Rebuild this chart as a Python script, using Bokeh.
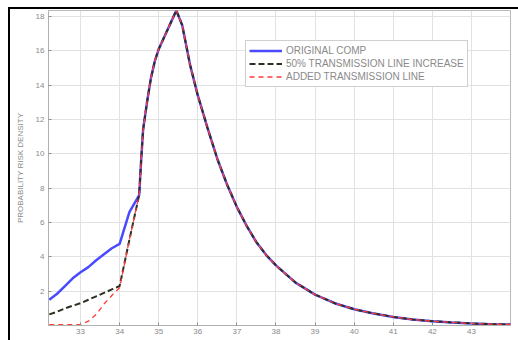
from bokeh.plotting import figure
from bokeh.layouts import column
from bokeh.models import Range1d, FixedTicker, Legend, LegendItem
from bokeh.embed import file_html
from bokeh.resources import INLINE

# Low-voltage part of each series (before the curves merge)
x_low = [32.2, 32.4, 32.6, 32.8, 33.0, 33.2, 33.4, 33.6, 33.8, 34.0, 34.25, 34.5]
orig_low = [1.5, 1.85, 2.3, 2.75, 3.1, 3.4, 3.8, 4.15, 4.5, 4.75, 6.6, 7.6]
inc_low = [0.65, 0.8, 1.0, 1.15, 1.3, 1.5, 1.7, 1.9, 2.1, 2.3, 5.0, 7.6]
added_low = [0.05, 0.05, 0.05, 0.05, 0.06, 0.25, 0.65, 1.25, 1.75, 2.2, 5.0, 7.6]

# Shared part of the density (all three series coincide)
x_main = [34.5, 34.55, 34.6, 34.7, 34.8, 34.9, 35.0, 35.1, 35.2, 35.3, 35.45,
          35.6, 35.8, 36.0, 36.25, 36.5, 36.75, 37.0, 37.25, 37.5, 37.75, 38.0,
          38.5, 39.0, 39.5, 40.0, 40.5, 41.0, 41.5, 42.0, 42.5, 43.0, 43.5, 44.0]
y_main = [7.6, 9.6, 11.4, 13.0, 14.4, 15.4, 16.1, 16.6, 17.1, 17.6, 18.35,
          17.5, 15.2, 13.4, 11.5, 9.7, 8.2, 6.9, 5.8, 4.85, 4.1, 3.5,
          2.5, 1.8, 1.3, 0.95, 0.7, 0.5, 0.35, 0.25, 0.18, 0.12, 0.08, 0.06]

x_ticks = [33, 34, 35, 36, 37, 38, 39, 40, 41, 42, 43]
y_ticks = [2, 4, 6, 8, 10, 12, 14, 16, 18]

labels = ["ORIGINAL COMP", "50% TRANSMISSION LINE INCREASE", "ADDED TRANSMISSION LINE"]

FONT = "Liberation Sans"
GREY = "#8a8a8a"

p = figure(width=508, height=331, output_backend="svg", toolbar_location=None,
           x_range=Range1d(32.18, 44.0), y_range=Range1d(0, 18.35),
           min_border_left=38, min_border_right=8, min_border_top=1, min_border_bottom=15)

p.outline_line_color = "#b8b8b8"
p.background_fill_color = "white"
p.border_fill_color = "white"

for ax in (p.xaxis[0], p.yaxis[0]):
    ax.axis_line_color = "#b0b0b0"
    ax.major_tick_in = 3
    ax.major_tick_out = 0
    ax.major_tick_line_color = "#909090"
    ax.minor_tick_line_color = None
    ax.major_label_text_font = FONT
    ax.major_label_text_font_size = "8px"
    ax.major_label_text_color = GREY

p.xaxis.ticker = FixedTicker(ticks=x_ticks)
p.yaxis.ticker = FixedTicker(ticks=y_ticks)
p.xaxis.major_label_standoff = 3
p.yaxis.major_label_standoff = 4
p.yaxis.axis_label = "PROBABILITY RISK DENSITY"
p.yaxis.axis_label_text_font = FONT
p.yaxis.axis_label_text_font_size = "8px"
p.yaxis.axis_label_text_font_style = "normal"
p.yaxis.axis_label_text_color = GREY
p.yaxis.axis_label_standoff = 8

p.xgrid.ticker = FixedTicker(ticks=x_ticks)
p.ygrid.ticker = FixedTicker(ticks=y_ticks)
p.grid.grid_line_color = "#e2e2e2"
p.grid.grid_line_width = 1

orig_x = x_low + x_main[1:]
orig_y = orig_low + y_main[1:]
inc_y = inc_low + y_main[1:]
added_y = added_low + y_main[1:]

r1 = p.line(orig_x, orig_y, line_color="#4a4aff", line_width=2.5)
r2 = p.line(orig_x, inc_y, line_color="#2e2e22", line_width=2, line_dash="6 3")
r3 = p.line(orig_x, added_y, line_color="#ff3b3b", line_width=1.3, line_dash="5 4")

legend = Legend(items=[LegendItem(label=labels[0], renderers=[r1]),
                       LegendItem(label=labels[1], renderers=[r2]),
                       LegendItem(label=labels[2], renderers=[r3])],
                location=(197, 238))
legend.label_text_font = FONT
legend.label_text_font_size = "10px"
legend.label_text_color = GREY
legend.glyph_width = 33
legend.glyph_height = 13
legend.label_height = 13
legend.spacing = 0
legend.padding = 3
legend.margin = 0
legend.label_standoff = 4
legend.border_line_color = "#a0a0a0"
legend.background_fill_alpha = 1.0
p.add_layout(legend, "center")

layout = column(p, styles={"border-left": "2px solid black", "border-top": "2px solid black",
                           "margin-left": "8px", "margin-top": "7px"})

open("out.html", "w").write(file_html(layout, INLINE))
